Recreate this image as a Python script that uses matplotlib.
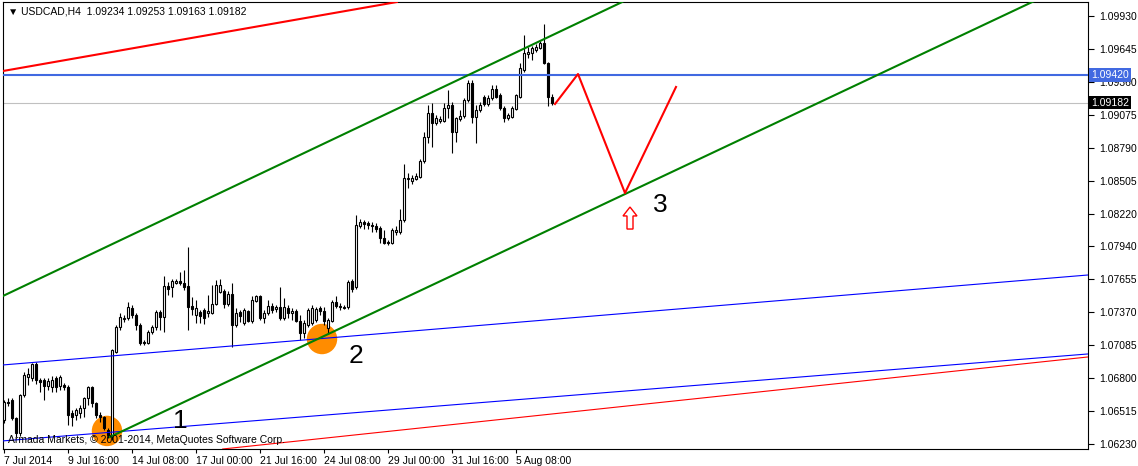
import numpy as np
import matplotlib.pyplot as plt
from matplotlib.patches import Polygon
from matplotlib.transforms import blended_transform_factory

plt.rcParams['font.family'] = ['Liberation Sans', 'DejaVu Sans']

# USDCAD H4 candles, 7 Jul 2014 00:00 onwards (one bar = 4 hours)
opens = [1.06441, 1.06596, 1.06614, 1.06458, 1.06329, 1.06657, 1.06812, 1.06804, 1.06925, 1.06786,
         1.06786, 1.06735, 1.06726, 1.06804, 1.06735, 1.06743, 1.06726, 1.06501, 1.06484, 1.06501,
         1.06545, 1.06631, 1.06726, 1.06588, 1.06484, 1.06467, 1.06355, 1.06311, 1.07028, 1.07244,
         1.07313, 1.07322, 1.07408, 1.07348, 1.07261, 1.07115, 1.07106, 1.07201, 1.07244, 1.07374,
         1.07330, 1.07598, 1.07589, 1.07624, 1.07641, 1.07624, 1.07598, 1.07425, 1.07348, 1.07374,
         1.07391, 1.07365, 1.07365, 1.07443, 1.07546, 1.07555, 1.07443, 1.07529, 1.07261, 1.07374,
         1.07279, 1.07382, 1.07296, 1.07469, 1.07512, 1.07322, 1.07365, 1.07425, 1.07399, 1.07417,
         1.07322, 1.07408, 1.07365, 1.07382, 1.07296, 1.07192, 1.07261, 1.07279, 1.07304, 1.07408,
         1.07382, 1.07235, 1.07296, 1.07460, 1.07425, 1.07417, 1.07417, 1.07641, 1.07589, 1.08116,
         1.08151, 1.08142, 1.08125, 1.08116, 1.08099, 1.08013, 1.07978, 1.07969, 1.08064, 1.08064,
         1.08168, 1.08522, 1.08505, 1.08522, 1.08539, 1.08678, 1.08885, 1.09092, 1.09006, 1.09023,
         1.09023, 1.09135, 1.09161, 1.08928, 1.09040, 1.09066, 1.09204, 1.09351, 1.09058, 1.09118,
         1.09230, 1.09170, 1.09222, 1.09299, 1.09248, 1.09135, 1.09049, 1.09058, 1.09127, 1.09230,
         1.09463, 1.09602, 1.09610, 1.09636, 1.09653, 1.09697, 1.09524, 1.09234]
highs = [1.06614, 1.06631, 1.06631, 1.06467, 1.06665, 1.06855, 1.06890, 1.06933, 1.06942, 1.06804,
         1.06804, 1.06804, 1.06821, 1.06821, 1.06830, 1.06760, 1.06743, 1.06527, 1.06545, 1.06570,
         1.06640, 1.06735, 1.06735, 1.06596, 1.06510, 1.06475, 1.06372, 1.07054, 1.07261, 1.07365,
         1.07348, 1.07460, 1.07434, 1.07365, 1.07279, 1.07132, 1.07218, 1.07261, 1.07391, 1.07391,
         1.07684, 1.07633, 1.07659, 1.07659, 1.07719, 1.07736, 1.07935, 1.07503, 1.07477, 1.07391,
         1.07408, 1.07520, 1.07607, 1.07650, 1.07659, 1.07572, 1.07555, 1.07624, 1.07408, 1.07391,
         1.07408, 1.07391, 1.07512, 1.07520, 1.07520, 1.07391, 1.07477, 1.07451, 1.07434, 1.07589,
         1.07494, 1.07434, 1.07408, 1.07399, 1.07348, 1.07304, 1.07408, 1.07434, 1.07417, 1.07425,
         1.07417, 1.07322, 1.07477, 1.07512, 1.07451, 1.07434, 1.07650, 1.07659, 1.08211, 1.08177,
         1.08168, 1.08159, 1.08151, 1.08142, 1.08116, 1.08082, 1.07995, 1.08099, 1.08116, 1.08263,
         1.08652, 1.08574, 1.08557, 1.08574, 1.08695, 1.08928, 1.09161, 1.09178, 1.09075, 1.09066,
         1.09178, 1.09291, 1.09187, 1.09058, 1.09118, 1.09222, 1.09377, 1.09377, 1.09161, 1.09187,
         1.09248, 1.09248, 1.09334, 1.09334, 1.09265, 1.09153, 1.09092, 1.09153, 1.09256, 1.09524,
         1.09766, 1.09662, 1.09671, 1.09688, 1.09714, 1.09861, 1.09533, 1.09253]
lows = [1.06415, 1.06562, 1.06441, 1.06294, 1.06303, 1.06640, 1.06743, 1.06778, 1.06752, 1.06683,
        1.06614, 1.06700, 1.06683, 1.06683, 1.06700, 1.06700, 1.06398, 1.06389, 1.06441, 1.06458,
        1.06467, 1.06570, 1.06553, 1.06458, 1.06424, 1.06355, 1.06285, 1.06268, 1.07019, 1.07218,
        1.07287, 1.07304, 1.07322, 1.07218, 1.07089, 1.07089, 1.07097, 1.07184, 1.07218, 1.07218,
        1.07201, 1.07520, 1.07503, 1.07615, 1.07607, 1.07564, 1.07218, 1.07348, 1.07279, 1.07279,
        1.07270, 1.07330, 1.07356, 1.07434, 1.07538, 1.07408, 1.07425, 1.07071, 1.07244, 1.07287,
        1.07261, 1.07287, 1.07279, 1.07460, 1.07304, 1.07279, 1.07348, 1.07365, 1.07374, 1.07304,
        1.07304, 1.07322, 1.07304, 1.07287, 1.07132, 1.07149, 1.07244, 1.07261, 1.07287, 1.07348,
        1.07261, 1.07192, 1.07287, 1.07408, 1.07391, 1.07399, 1.07399, 1.07546, 1.07572, 1.08099,
        1.08090, 1.08090, 1.08064, 1.08064, 1.07969, 1.07961, 1.07952, 1.07961, 1.08039, 1.08047,
        1.08151, 1.08444, 1.08479, 1.08514, 1.08531, 1.08660, 1.08833, 1.08799, 1.08989, 1.09006,
        1.09014, 1.09049, 1.08747, 1.08842, 1.09023, 1.09049, 1.09187, 1.09006, 1.08833, 1.09101,
        1.09153, 1.09153, 1.09204, 1.09222, 1.09118, 1.09014, 1.09032, 1.09049, 1.09118, 1.09222,
        1.09446, 1.09567, 1.09550, 1.09619, 1.09645, 1.09515, 1.09153, 1.09163]
closes = [1.06596, 1.06588, 1.06458, 1.06329, 1.06657, 1.06830, 1.06838, 1.06925, 1.06786, 1.06769,
          1.06735, 1.06778, 1.06786, 1.06726, 1.06812, 1.06726, 1.06484, 1.06467, 1.06527, 1.06545,
          1.06631, 1.06726, 1.06588, 1.06484, 1.06467, 1.06372, 1.06311, 1.07045, 1.07244, 1.07330,
          1.07322, 1.07417, 1.07348, 1.07261, 1.07106, 1.07106, 1.07201, 1.07244, 1.07374, 1.07330,
          1.07598, 1.07572, 1.07641, 1.07641, 1.07624, 1.07589, 1.07417, 1.07399, 1.07408, 1.07339,
          1.07322, 1.07382, 1.07443, 1.07607, 1.07607, 1.07443, 1.07529, 1.07261, 1.07365, 1.07339,
          1.07391, 1.07296, 1.07477, 1.07512, 1.07322, 1.07365, 1.07425, 1.07391, 1.07417, 1.07322,
          1.07417, 1.07365, 1.07382, 1.07296, 1.07192, 1.07279, 1.07391, 1.07408, 1.07399, 1.07382,
          1.07296, 1.07304, 1.07460, 1.07425, 1.07417, 1.07408, 1.07633, 1.07572, 1.08125, 1.08151,
          1.08134, 1.08125, 1.08116, 1.08090, 1.08013, 1.07969, 1.07969, 1.08082, 1.08082, 1.08168,
          1.08531, 1.08531, 1.08531, 1.08548, 1.08678, 1.08885, 1.09092, 1.09006, 1.09049, 1.09040,
          1.09135, 1.09161, 1.08928, 1.09049, 1.09066, 1.09204, 1.09351, 1.09058, 1.09118, 1.09161,
          1.09170, 1.09222, 1.09299, 1.09230, 1.09135, 1.09049, 1.09075, 1.09135, 1.09248, 1.09481,
          1.09610, 1.09619, 1.09653, 1.09662, 1.09697, 1.09524, 1.09230, 1.09182]

date_ticks = [0, 16, 32, 48, 64, 80, 96, 112, 128]
date_labels = ['7 Jul 2014', '9 Jul 16:00', '14 Jul 08:00', '17 Jul 00:00', '21 Jul 16:00',
               '24 Jul 08:00', '29 Jul 00:00', '31 Jul 16:00', '5 Aug 08:00']
price_ticks = [1.09930, 1.09645, 1.09360, 1.09075, 1.08790, 1.08505, 1.08220, 1.07940,
               1.07655, 1.07370, 1.07085, 1.06800, 1.06515, 1.06230]

# trend lines, two anchor points each (bar index, price)
red_top = [(-0.25, 1.09455), (95.25, 1.10033)]
green_upper = [(-0.25, 1.07512), (154.0, 1.10042)]
green_lower = [(26.5, 1.06294), (256.5, 1.10042)]
blue_mid = [(-0.25, 1.06916), (271.0, 1.07693)]
blue_low = [(-0.25, 1.06260), (271.0, 1.07011)]
red_low = [(52.5, 1.06182), (271.0, 1.06985)]
level = 1.09420
last_price = 1.09182

# projected path
proj_x = [137.75, 143.5, 155.25, 168.0]
proj_y = [1.09170, 1.09429, 1.08401, 1.09317]

# touch points and labels
touch_x = [25.75, 79.5]
touch_y = [1.06346, 1.07140]
marks = ['1', '2', '3']
marks_x = [44.0, 88.0, 164.0]
marks_y = [1.06433, 1.06994, 1.08298]

fig = plt.figure(figsize=(11.38, 4.66), dpi=100)
ax = fig.add_axes([3 / 1138, 17 / 466, 1085 / 1138, 447 / 466])
ax.set_xlim(-0.25, 271.0)
ax.set_ylim(1.06190, 1.10051)

o = np.array(opens)
h = np.array(highs)
l = np.array(lows)
c = np.array(closes)
idx = np.arange(len(o))
up = c >= o

ax.vlines(idx, l, h, color='black', lw=0.8, zorder=3)
ax.bar(idx, np.maximum(np.abs(c - o), 0.00003), bottom=np.minimum(o, c), width=0.62,
       color=np.where(up, 'white', 'black'), edgecolor='black', linewidth=0.8, zorder=4)

ax.scatter(touch_x, touch_y, s=480, color='#FF8C00', edgecolors='none', zorder=2)

ax.axhline(last_price, color='#C0C0C0', lw=0.8, zorder=1)
ax.axhline(level, color='#4169E1', lw=1.5, zorder=5)

for pts, col, lw in [(red_top, 'red', 1.5), (green_upper, 'green', 1.5),
                     (blue_mid, 'blue', 0.8), (blue_low, 'blue', 0.8), (red_low, 'red', 0.8)]:
    ax.axline(pts[0], pts[1], color=col, lw=lw, zorder=5)

# lower channel line is a ray from the low
(gx0, gy0), (gx1, gy1) = green_lower
slope = (gy1 - gy0) / (gx1 - gx0)
ax.plot([gx0, 300], [gy0, gy0 + slope * (300 - gx0)], color='green', lw=1.5, zorder=5)

ax.plot(proj_x, proj_y, color='red', lw=1.5, zorder=6)

# hollow up arrow under the projected low
ax_x, tip, base, tail = 156.5, 1.08280, 1.08203, 1.08090
arrow = Polygon([(ax_x, tip), (ax_x + 1.75, base), (ax_x + 0.75, base), (ax_x + 0.75, tail),
                 (ax_x - 0.75, tail), (ax_x - 0.75, base), (ax_x - 1.75, base)],
                closed=True, facecolor='white', edgecolor='red', lw=1.0, zorder=6)
ax.add_patch(arrow)

for m, mx, my in zip(marks, marks_x, marks_y):
    ax.text(mx, my, m, fontsize=19, ha='center', va='center', zorder=7)

ax.set_xticks(date_ticks)
ax.set_xticklabels(date_labels, ha='left')
ax.set_yticks(price_ticks)
ax.set_yticklabels([f'{p:.5f}' for p in price_ticks])
ax.yaxis.tick_right()
ax.tick_params(axis='y', labelsize=7.5, length=4, width=0.8, pad=4)
ax.tick_params(axis='x', labelsize=7.5, length=3, width=0.8, pad=2)
for s in ax.spines.values():
    s.set_linewidth(0.8)

tr = blended_transform_factory(ax.transAxes, ax.transData)
ax.text(1.003, level, f'{level:.5f}', transform=tr, fontsize=7.5, color='white', va='center',
        ha='left', bbox=dict(facecolor='#4169E1', edgecolor='none', pad=1.3), zorder=8)
ax.text(1.003, last_price, f'{last_price:.5f}', transform=tr, fontsize=7.5, color='white',
        va='center', ha='left', bbox=dict(facecolor='black', edgecolor='none', pad=1.3), zorder=8)

fig.text(8 / 1138, 1 - 11 / 466,
         '\u25bc USDCAD,H4  1.09234 1.09253 1.09163 1.09182', fontsize=7.5, va='center')
ax.text(5 / 1085, 1 - 438 / 447, 'Armada Markets, \u00a9 2001-2014, MetaQuotes Software Corp.',
        transform=ax.transAxes, fontsize=7.5, va='center', zorder=7)

fig.savefig('out.png', dpi=100)
